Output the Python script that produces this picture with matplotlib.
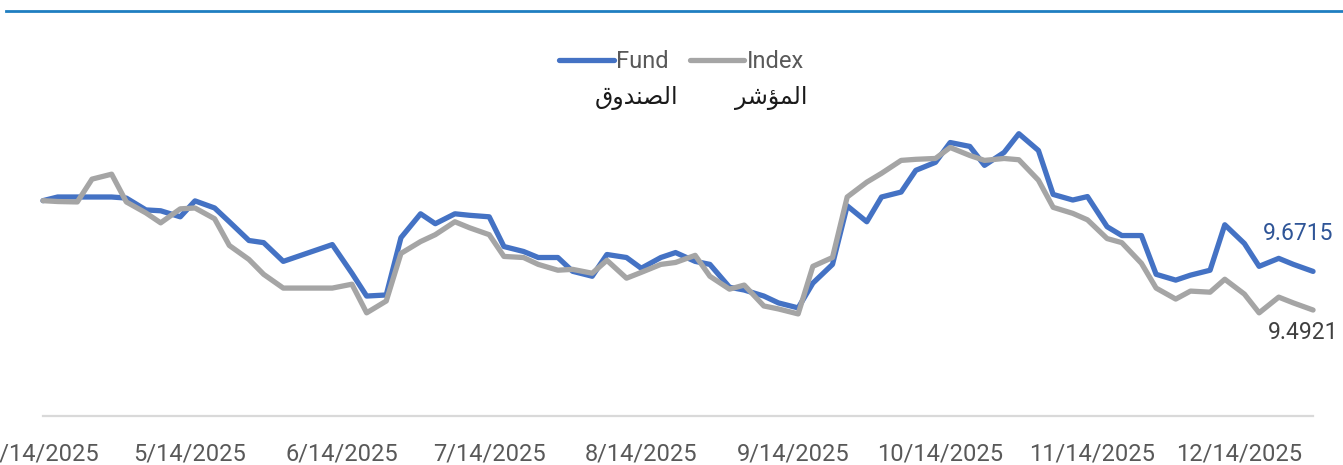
"""Fund vs index performance line chart (rebased to 10), twice-weekly NAV points."""

import matplotlib

matplotlib.use("Agg")
import matplotlib.pyplot as plt
import pandas as pd
from matplotlib.lines import Line2D

# Observation dates (Mondays / Thursdays, 2025)
dates = [
    "2025-04-14", "2025-04-17", "2025-04-21", "2025-04-24", "2025-04-28",
    "2025-05-01", "2025-05-05", "2025-05-08", "2025-05-12", "2025-05-15",
    "2025-05-19", "2025-05-22", "2025-05-26", "2025-05-29",
    "2025-06-02", "2025-06-12", "2025-06-16", "2025-06-19", "2025-06-23",
    "2025-06-26", "2025-06-30",
    "2025-07-03", "2025-07-07", "2025-07-10", "2025-07-14", "2025-07-17",
    "2025-07-21", "2025-07-24", "2025-07-28", "2025-07-31",
    "2025-08-04", "2025-08-07", "2025-08-11", "2025-08-14", "2025-08-18",
    "2025-08-21", "2025-08-25", "2025-08-28",
    "2025-09-01", "2025-09-04", "2025-09-08", "2025-09-11", "2025-09-15",
    "2025-09-18", "2025-09-22", "2025-09-25", "2025-09-29",
    "2025-10-02", "2025-10-06", "2025-10-09", "2025-10-13", "2025-10-16",
    "2025-10-20", "2025-10-23", "2025-10-27", "2025-10-30",
    "2025-11-03", "2025-11-06", "2025-11-10", "2025-11-13", "2025-11-17",
    "2025-11-20", "2025-11-24", "2025-11-27",
    "2025-12-01", "2025-12-04", "2025-12-08", "2025-12-11", "2025-12-15",
    "2025-12-18", "2025-12-22", "2025-12-25", "2025-12-29",
]

fund = [
    10.000, 10.017, 10.017, 10.017, 10.017,
    10.012, 9.957, 9.953, 9.925, 9.999,
    9.966, 9.902, 9.815, 9.805,
    9.718, 9.796, 9.663, 9.557, 9.562,
    9.828, 9.939,
    9.893, 9.939, 9.932, 9.925, 9.787,
    9.764, 9.736, 9.736, 9.672,
    9.649, 9.750, 9.736, 9.686, 9.736,
    9.759, 9.718, 9.704,
    9.598, 9.585, 9.557, 9.525, 9.502,
    9.617, 9.704, 9.976, 9.902,
    10.017, 10.040, 10.141, 10.178, 10.270,
    10.252, 10.164, 10.224, 10.311,
    10.233, 10.029, 10.003, 10.019, 9.879,
    9.838, 9.838, 9.658,
    9.631, 9.654, 9.677, 9.888, 9.801,
    9.695, 9.732, 9.704, 9.6715,
]

index = [
    10.000, 9.996, 9.994, 10.100, 10.123,
    9.994, 9.943, 9.897, 9.962, 9.966,
    9.916, 9.792, 9.727, 9.658,
    9.594, 9.594, 9.612, 9.479, 9.534,
    9.755, 9.810,
    9.842, 9.902, 9.874, 9.842, 9.741,
    9.736, 9.704, 9.677, 9.681,
    9.663, 9.723, 9.640, 9.667, 9.704,
    9.713, 9.746, 9.649,
    9.589, 9.608, 9.511, 9.497, 9.474,
    9.695, 9.736, 10.017, 10.086,
    10.127, 10.187, 10.192, 10.196, 10.247,
    10.210, 10.187, 10.196, 10.190,
    10.095, 9.969, 9.941, 9.911, 9.824,
    9.805, 9.709, 9.594,
    9.543, 9.580, 9.575, 9.635, 9.566,
    9.479, 9.552, 9.525, 9.4921,
]

tick_dates = [
    "2025-04-14", "2025-05-14", "2025-06-14", "2025-07-14", "2025-08-14",
    "2025-09-14", "2025-10-14", "2025-11-14", "2025-12-14",
]

series_en = ["Fund", "Index"]
series_ar = ["الصندوق", "المؤشر"]
# matplotlib 3.10 has no Arabic shaping, so the same words in presentation forms, visual order
series_ar_shaped = ["\uFED5\uFEED\uFEAA\uFEE8\uFEBC\uFEDF\uFE8D",
                    "\uFEAE\uFEB7\uFE86\uFEE4\uFEDF\uFE8D"]

FUND_C = "#4472C4"
INDEX_C = "#A5A5A5"
TEXT_C = "#595959"

plt.rcParams["font.family"] = ["Roboto", "DejaVu Sans"]

x = pd.to_datetime(dates)
ticks = pd.to_datetime(tick_dates)

fig = plt.figure(figsize=(13.43, 4.65), dpi=100)
ax = fig.add_axes([0.032, 0.1054, 0.9457, 0.6946])

style = dict(lw=3.8, solid_joinstyle="round", solid_capstyle="round", clip_on=False)
ax.plot(x, fund, color=FUND_C, label=series_en[0], **style)
ax.plot(x, index, color=INDEX_C, label=series_en[1], **style)

ax.set_xlim(x[0], x[-1])
ax.set_ylim(9.0, 10.5)
ax.set_yticks([])
ax.set_xticks(ticks)
ax.set_xticklabels([f"{d.month}/{d.day}/{d.year}" for d in ticks])
ax.tick_params(axis="x", length=0, pad=19, labelsize=17, labelcolor=TEXT_C)
for s in ("top", "left", "right"):
    ax.spines[s].set_visible(False)
ax.spines["bottom"].set_color("#D9D9D9")
ax.spines["bottom"].set_linewidth(1.6)

# end-of-period values
ax.annotate(f"{fund[-1]:.4f}", (x[-1], fund[-1]), xytext=(-11, 27),
            textcoords="offset points", ha="center", va="center",
            fontsize=16.5, color="#2F5597", annotation_clip=False)
ax.annotate(f"{index[-1]:.4f}", (x[-1], index[-1]), xytext=(-7, -16),
            textcoords="offset points", ha="center", va="center",
            fontsize=16.5, color="#404040", annotation_clip=False)

leg = ax.legend(loc="center", bbox_to_anchor=(0.5074, 0.868),
                bbox_transform=fig.transFigure, ncol=2, frameon=False,
                fontsize=17, handlelength=2.3, handletextpad=0.1,
                columnspacing=0.9, labelcolor=TEXT_C)
for h in leg.get_lines():
    h.set_linewidth(3.8)
    h.set_solid_capstyle("round")

fig.text(678 / 1343, 1 - 98 / 465, series_ar_shaped[0], ha="right", va="center",
         fontsize=17, color="#1A1A1A", family=["DejaVu Sans"])
fig.text(807 / 1343, 1 - 98 / 465, series_ar_shaped[1], ha="right", va="center",
         fontsize=17, color="#1A1A1A", family=["DejaVu Sans"])

# thin rule across the top of the panel
fig.add_artist(Line2D([6 / 1343, 1], [1 - 11 / 465] * 2, transform=fig.transFigure,
                      color="#1F7EC1", lw=2.0))

fig.savefig("out.png", dpi=100, facecolor="white")
